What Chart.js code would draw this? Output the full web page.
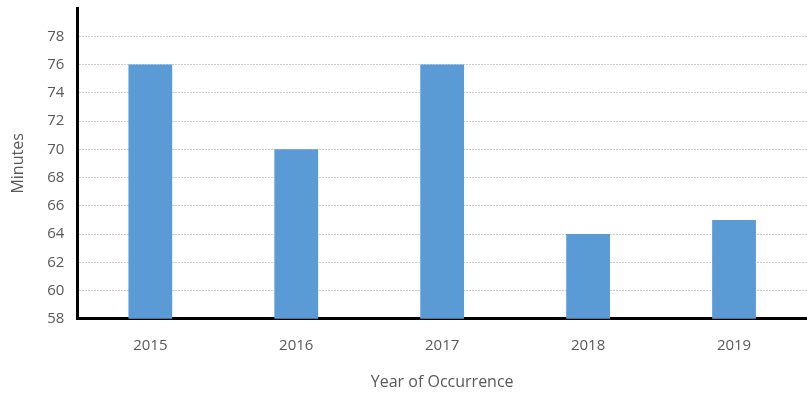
<!DOCTYPE html>
<html>
<head>
<meta charset="utf-8">
<script src="https://cdn.jsdelivr.net/npm/chart.js@4/dist/chart.umd.min.js"></script>
<style>
  html, body { margin: 0; padding: 0; background: #fff; }
  #wrap { width: 807px; height: 395px; }
</style>
</head>
<body>
<div id="wrap"><canvas id="chart"></canvas></div>
<script>
// data
const years = ["2015", "2016", "2017", "2018", "2019"];
const minutes = [76, 70, 76, 64, 65];
const yMin = 58;
const yMax = 80;

window.addEventListener("load", () => {
  const ctx = document.getElementById("chart");
  const fam = "'Open Sans', 'Liberation Sans', sans-serif";
  const tickFont = { family: fam, size: 15 };

  new Chart(ctx, {
    type: "bar",
    data: {
      labels: years,
      datasets: [{
        label: "Minutes",
        data: minutes,
        backgroundColor: "#5b9bd5",
        barPercentage: 0.6,
        categoryPercentage: 0.5
      }]
    },
    options: {
      responsive: true,
      maintainAspectRatio: false,
      animation: false,
      layout: { padding: { top: 8, right: 0, left: 9, bottom: 3 } },
      plugins: {
        legend: { display: false },
        tooltip: { enabled: false }
      },
      scales: {
        x: {
          grid: { display: true, color: "rgba(0,0,0,0)", drawTicks: false },
          border: { color: "#000", width: 3 },
          ticks: { color: "#595959", font: tickFont, padding: 18 },
          title: {
            display: true,
            text: "Year of Occurrence",
            color: "#595959",
            font: { family: fam, size: 16 },
            padding: { top: 0, bottom: 0 }
          }
        },
        y: {
          min: yMin,
          max: yMax,
          afterFit: (scale) => { scale.paddingTop = 0; },
          ticks: {
            stepSize: 2,
            color: "#595959",
            font: tickFont,
            padding: 13,
            callback: (v) => (v === yMax ? "" : v)
          },
          grid: {
            drawTicks: false,
            lineWidth: 1,
            color: (c) => (c.tick && c.tick.value === yMax ? "rgba(0,0,0,0)" : "#cccccc")
          },
          border: { color: "#000", width: 3, dash: [2, 1] },
          title: {
            display: true,
            text: "Minutes",
            color: "#595959",
            font: { family: fam, size: 16 },
            padding: { top: 0, bottom: 6 }
          }
        }
      }
    }
  });
});
</script>
</body>
</html>
